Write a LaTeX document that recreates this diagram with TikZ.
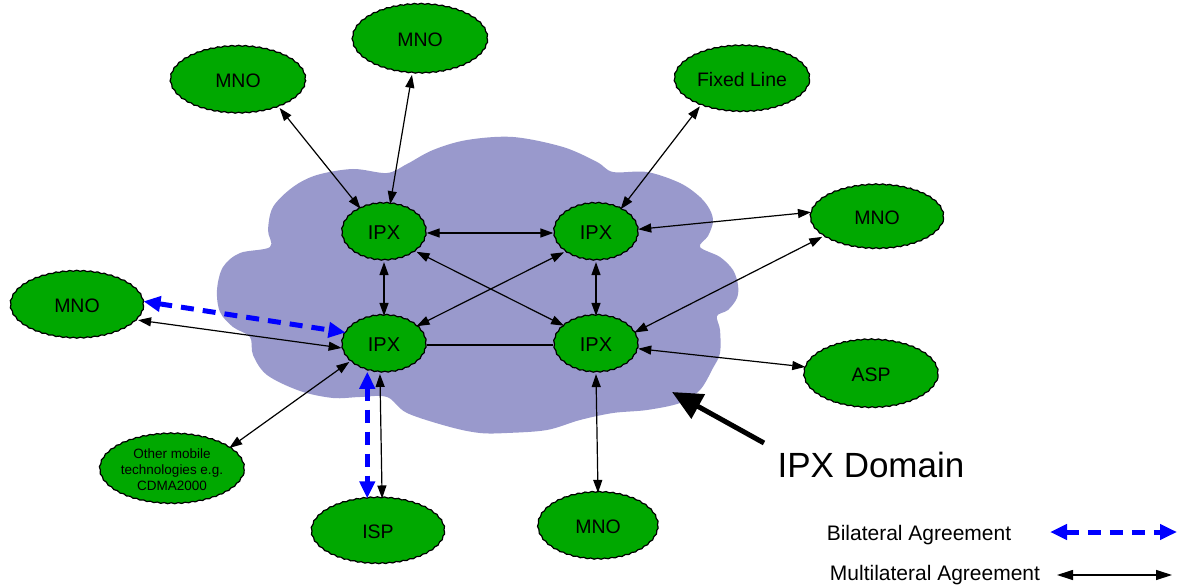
\documentclass[tikz,border=0pt]{standalone}
\usepackage{fontspec}
\setmainfont{Liberation Sans}
\usetikzlibrary{arrows.meta,shapes.geometric,decorations.pathmorphing,backgrounds}
\definecolor{nodegreen}{RGB}{0,168,0}
\definecolor{cloudblue}{RGB}{153,153,204}
\definecolor{bilatblue}{RGB}{0,0,255}

\begin{document}
\begin{tikzpicture}[x=1pt,y=-1pt,
  ent/.style={ellipse, draw=black, line width=1.2pt, fill=nodegreen,
    inner sep=0pt, decorate,
    decoration={snake, amplitude=0.5pt, segment length=7pt},
    font=\fontsize{19.5}{22}\selectfont},
  dims/.style 2 args={minimum width=#1pt, minimum height=#2pt},
  ipx/.style={ent, dims={84}{57}, font=\fontsize{20}{23}\selectfont},
  link/.style={{Triangle[length=13pt,width=9pt]}-{Triangle[length=13pt,width=9pt]},
    line width=1.2pt, draw=black},
  plainlink/.style={line width=1.2pt, draw=black},
  bilat/.style={{Triangle[length=17pt,width=15pt]}-{Triangle[length=17pt,width=15pt]},
    draw=bilatblue, line width=5pt, dash pattern=on 13pt off 9pt},
  multi/.style={{Triangle[length=16pt,width=10pt]}-{Triangle[length=16pt,width=10pt]},
    line width=1.2pt, draw=black},
  legendtext/.style={anchor=base, inner sep=0pt, font=\fontsize{21}{24}\selectfont},
]
\useasboundingbox (0,0) rectangle (1180,585);

% ---- entities ----
\node[ent, dims={135}{67}] (mnoTL) at (238,81) {MNO};
\node[ent, dims={135}{69}] (mnoT) at (420,40) {MNO};
\node[ent, dims={135}{66}] (fixed) at (742,80) {Fixed Line};
\node[ent, dims={133}{64}] (mnoR) at (877,218) {MNO};
\node[ent, dims={133}{67}] (mnoL) at (77,306) {MNO};
\node[ent, dims={134}{68}] (asp) at (871,375) {ASP};
\node[ent, dims={138}{70}, align=center,
      font=\fontsize{13.5}{16}\selectfont] (other) at (172,470)
      {Other mobile\\technologies e.g.\\CDMA2000};
\node[ent, dims={133}{66}] (isp) at (378,532) {ISP};
\node[ent, dims={120}{67}] (mnoB) at (598,527) {MNO};

\node[ipx] (ipxTL) at (384,233) {IPX};
\node[ipx] (ipxTR) at (596,233) {IPX};
\node[ipx] (ipxBL) at (384,345) {IPX};
\node[ipx] (ipxBR) at (596,345) {IPX};

% ---- IPX domain cloud ----
\begin{scope}[on background layer]
  \fill[cloudblue] plot[smooth cycle, tension=0.55] coordinates {
    (387,173) (407,164) (433,150) (467,140) (513,137) (563,147) (597,162)
    (613,172) (647,172) (680,183) (700,197) (710,210) (713,222) (708,236)
    (700,247) (720,257) (733,270) (738,285) (737,298) (728,310) (717,316)
    (720,330) (720,353) (713,368) (700,390) (680,403) (647,410) (613,413)
    (580,420) (547,430) (507,433) (480,433) (450,427) (407,413) (387,397)
    (360,397) (333,398) (300,391) (267,375) (253,355) (250,337) (233,327)
    (220,312) (217,290) (223,267) (240,253) (270,247) (268,230) (273,207)
    (293,187) (317,175) (353,169)};
\end{scope}

% ---- multilateral links ----
\draw[link] (mnoTL.-33) -- (ipxTL.134);
\draw[link] (mnoT.-103) -- (ipxTL.78);
\draw[link] (fixed.-148) -- (ipxTR.44);
\draw[link] (mnoR.175) -- (ipxTR.5);
\draw[link] (mnoR.-161) -- (ipxBR.18);
\draw[link] (asp.173) -- (ipxBR.-5);
\draw[link] (mnoB.north) -- (ipxBR.south);
\draw[link] (ipxTL.east) -- (ipxTR.west);
\draw[link] (ipxTL.south) -- (ipxBL.north);
\draw[link] (ipxTR.south) -- (ipxBR.north);
\draw[link] (ipxTL.-30) -- (ipxBR.149);
\draw[link] (ipxTR.-149) -- (ipxBL.30);
\draw[plainlink] (ipxBL.east) -- (ipxBR.west);
\draw[link] (mnoL.-13) -- (ipxBL.-176);
\draw[link] (other.21) -- (ipxBL.-154);
\draw[link] (isp.83) -- (ipxBL.-98);

% ---- bilateral links ----
\draw[bilat] (mnoL.4) -- (ipxBL.162);
\draw[bilat] (ipxBL.-122) -- (ipxBL.-122 |- isp.north);

% ---- domain pointer ----
\coordinate (domtail) at (764,443);
\coordinate (domtip) at (672,392);
\draw[-{Triangle[length=30pt,width=27pt]}, line width=5pt] (domtail) -- (domtip);
\node[anchor=base, inner sep=0pt, font=\fontsize{35}{40}\selectfont] (domain)
  at (871,477) {IPX Domain};

% ---- legend ----
\node[legendtext] (bilabel) at (919,540) {Bilateral Agreement};
\node[legendtext] (mulabel) at (935,580) {Multilateral Agreement};
\coordinate (bl1) at (1050,532);
\coordinate (bl2) at (1177,532);
\coordinate (ml1) at (1057,575);
\coordinate (ml2) at (1172,575);
\draw[bilat] (bl1) -- (bl2);
\draw[multi] (ml1) -- (ml2);
\end{tikzpicture}
\end{document}
